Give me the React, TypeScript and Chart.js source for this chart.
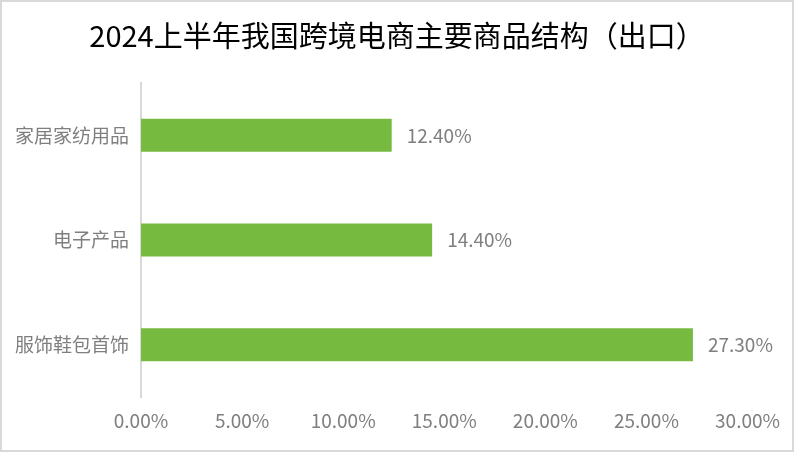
import React, { useEffect, useRef } from 'react'
import { Chart, registerables, Plugin } from 'chart.js'

Chart.register(...registerables)

const categories = ['家居家纺用品', '电子产品', '服饰鞋包首饰']
const shares = [12.4, 14.4, 27.3]
const xTicks = [0, 5, 10, 15, 20, 25, 30]
const title = '2024上半年我国跨境电商主要商品结构（出口）'

const FONT = '"Noto Sans CJK SC", "Noto Sans", sans-serif'
const GRAY = '#7f7f7f'

// value labels at the end of each bar, plus a title centred on the whole canvas
const barLabels: Plugin<'bar'> = {
  id: 'barLabels',
  afterDatasetsDraw(chart) {
    const ctx = chart.ctx
    const meta = chart.getDatasetMeta(0)
    ctx.save()
    ctx.font = `19px ${FONT}`
    ctx.fillStyle = GRAY
    ctx.textAlign = 'left'
    ctx.textBaseline = 'middle'
    meta.data.forEach((bar, i) => {
      ctx.fillText(shares[i].toFixed(2) + '%', bar.x + 15, bar.y)
    })
    ctx.font = `29px ${FONT}`
    ctx.fillStyle = '#000000'
    ctx.textAlign = 'center'
    ctx.fillText(title, chart.width / 2, 34)
    ctx.restore()
  },
}

const App = () => {
  const chartRef = useRef<HTMLCanvasElement>(null)

  useEffect(() => {
    document.body.style.margin = '0'
    if (!chartRef.current) return
    const ctx = chartRef.current.getContext('2d')
    if (!ctx) return

    const chart = new Chart(ctx, {
      type: 'bar',
      data: {
        labels: categories,
        datasets: [
          {
            data: shares,
            backgroundColor: '#76bb40',
            barPercentage: 0.63,
            categoryPercentage: 0.5,
          },
        ],
      },
      options: {
        indexAxis: 'y',
        animation: false,
        responsive: true,
        maintainAspectRatio: false,
        layout: { padding: { left: 1, right: 44, top: 81, bottom: 6 } },
        plugins: {
          legend: { display: false },
          tooltip: { enabled: false },
          title: { display: false },
        },
        scales: {
          x: {
            min: 0,
            max: 30,
            afterBuildTicks(axis) {
              axis.ticks = xTicks.map((v) => ({ value: v }))
            },
            grid: { display: false, drawTicks: false },
            border: { display: false },
            ticks: {
              color: GRAY,
              padding: 12,
              maxRotation: 0,
              font: { family: FONT, size: 19 },
              callback: (v) => Number(v).toFixed(2) + '%',
            },
          },
          y: {
            grid: { display: false, drawTicks: false },
            border: { display: true, color: '#d9d9d9', width: 2 },
            ticks: {
              color: GRAY,
              padding: 12,
              font: { family: FONT, size: 19 },
            },
          },
        },
      },
      plugins: [barLabels],
    })

    return () => {
      chart.destroy()
    }
  }, [])

  return (
    <div
      style={{
        width: 794,
        height: 452,
        boxSizing: 'border-box',
        border: '2px solid #d9d9d9',
        background: '#ffffff',
      }}
    >
      <div style={{ position: 'relative', width: 790, height: 448 }}>
        <canvas ref={chartRef} />
      </div>
    </div>
  )
}

export default App
